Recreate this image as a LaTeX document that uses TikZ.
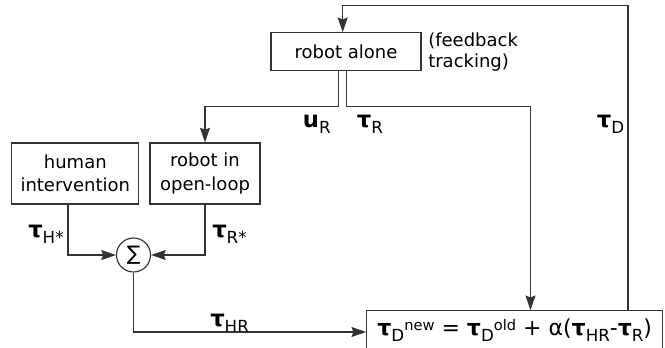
\documentclass[tikz,border=0pt]{standalone}
\usepackage{fontspec}
\setmainfont{DejaVu Sans}
\usetikzlibrary{arrows.meta}
\newcommand{\tb}{\textbf{τ}}
\newcommand{\lsub}[1]{\raisebox{-4.5pt}{\fontsize{12.5}{12.5}\selectfont #1}}
\newcommand{\lsup}[1]{\raisebox{3.5pt}{\fontsize{11}{11}\selectfont #1}}
\tikzset{
  blockbox/.style={draw=black!80,line width=0.85pt,align=center,inner sep=0pt,
    font=\fontsize{13.5}{17.5}\selectfont},
  sig/.style={inner sep=0pt,anchor=base west,font=\fontsize{17}{20}\selectfont},
  wire/.style={draw=black!80,line width=0.85pt},
  arr/.style={wire,-{Stealth[length=11pt,width=7.5pt,inset=1.5pt]}},
}
\begin{document}
\begin{tikzpicture}[x=0.75pt,y=-0.75pt]
\useasboundingbox (0,0) rectangle (665,347);

%% ---------------- blocks ----------------
\node[blockbox,minimum width=112.5pt,minimum height=28.5pt] (robot) at (346,51.7) {robot alone};
\node[anchor=west,align=left,inner sep=0pt,font=\fontsize{13.5}{15.75}\selectfont]
  (note) at (428,52.5) {(feedback\\tracking)};
\node[blockbox,minimum width=95.25pt,minimum height=45.75pt] (human) at (75.3,173.5) {human\\intervention};
\node[blockbox,minimum width=82.5pt,minimum height=45.75pt] (openloop) at (205,173.5) {robot in\\open-loop};
\node[draw=black!80,line width=0.85pt,circle,minimum size=25.5pt,inner sep=0pt,
  font=\fontsize{15}{15}\selectfont] (sum) at (133.5,255) {∑};
\node[blockbox,minimum width=222pt,minimum height=28.5pt,font=\fontsize{16.5}{20}\selectfont]
  (update) at (514.7,329.7)
  {\tb\lsub{D}\lsup{new} = \tb\lsub{D}\lsup{old} + α(\tb\lsub{HR}-\tb\lsub{R})};

%% ---------------- bends ----------------
\coordinate (rL) at (338.7,106.7);
\coordinate (rR) at (346.7,106.7);
\coordinate (dIn) at (530.5,106.7);
\coordinate (fb) at (628,5.7);
\coordinate (fbIn) at (342.7,5.7);
\coordinate (hOut) at (68,255);
\coordinate (oOut) at (205,255);
\coordinate (sOut) at (133.5,332);

%% ---------------- connectors ----------------
\draw[arr] (robot.south -| rL) -- (rL) -| (openloop.north);
\draw[arr] (robot.south -| rR) -- (rR) -- (dIn) -- (dIn |- update.north);
\draw[arr] (update.north -| fb) -- (fb) -- (fbIn) -- (fbIn |- robot.north);
\draw[arr] (human.south -| hOut) -- (hOut) -- (sum.west);
\draw[arr] (openloop.south -| oOut) -- (oOut) -- (sum.east);
\draw[arr] (sum.south) -- (sOut) -- (sOut -| update.west);

%% ---------------- signal labels ----------------
\node[sig] (uR) at (302.7,127) {\textbf{u}\lsub{R}};
\node[sig] (tauR) at (356.7,127) {\tb\lsub{R}};
\node[sig] (tauD) at (596.7,127) {\tb\lsub{D}};
\node[sig] (tauH) at (28,237) {\tb\lsub{H*}};
\node[sig] (tauRs) at (212,237) {\tb\lsub{R*}};
\node[sig] (tauHR) at (210,326.7) {\tb\lsub{HR}};
\end{tikzpicture}
\end{document}
